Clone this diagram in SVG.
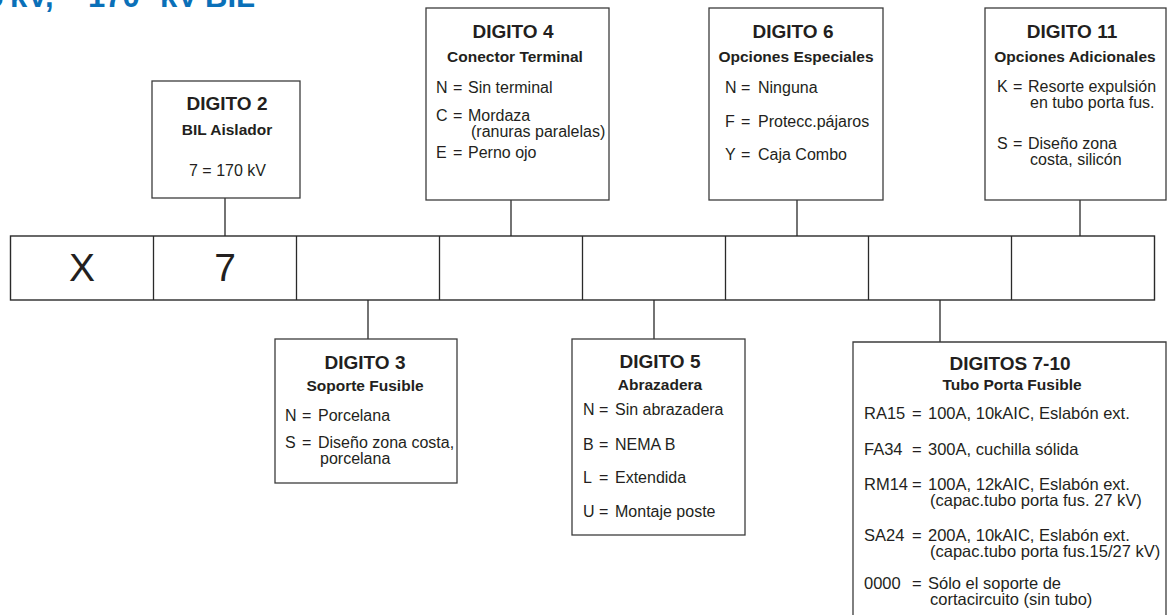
<svg xmlns="http://www.w3.org/2000/svg" width="1172" height="615" viewBox="0 0 1172 615">
<style>
.box{fill:#fff;stroke:#3c3c3c;stroke-width:1.3}
.row{fill:#fff;stroke:#2a2a2a;stroke-width:1.4}
.ln{stroke:#2a2a2a;stroke-width:1.3;fill:none}
text{font-family:"Liberation Sans",Arial,sans-serif;fill:#231f20}
.t{font-size:19px;font-weight:bold;text-anchor:middle}
.s{font-size:15.5px;font-weight:bold;text-anchor:middle}
.i{font-size:16px}
.j{font-size:16.5px}
.big{font-size:39px;text-anchor:middle}
.head{font-size:31px;font-weight:bold;fill:#0a70b8}
</style>
<rect width="1172" height="615" fill="#fff"/>
<g id="title"><text class="head" y="7"><tspan x="-14">5</tspan><tspan x="10">kV,</tspan><tspan x="88">170</tspan><tspan x="160">kV</tspan><tspan x="205">BIL</tspan></text></g>
<g id="code-row">
<rect class="row" x="10.5" y="236" width="1144" height="64"/>
<path class="ln" d="M153.5 236V300M296.5 236V300M439.5 236V300M582.5 236V300M725.5 236V300M868.5 236V300M1011.5 236V300"/>
<text class="big" x="82" y="281">X</text>
<text class="big" x="225" y="281">7</text>
</g>
<g id="connectors">
<path class="ln" d="M225 198V236M511 200V236M797 200V236M1080 200V236M368 300V339M654 300V339M940 300V342"/>
</g>
<g id="digito2">
<rect class="box" x="152" y="81" width="148" height="117"/>
<text class="t" x="227" y="110">DIGITO 2</text>
<text class="s" x="227" y="135">BIL Aislador</text>
<text class="i" x="189" y="176">7 = 170 kV</text>
</g>
<g id="digito4">
<rect class="box" x="426" y="8" width="183" height="192"/>
<text class="t" x="513" y="38">DIGITO 4</text>
<text class="s" x="515" y="62">Conector Terminal</text>
<text class="i" y="93"><tspan x="436">N</tspan><tspan x="453">=</tspan><tspan x="468">Sin terminal</tspan></text>
<text class="i" y="121"><tspan x="436">C</tspan><tspan x="453">=</tspan><tspan x="468">Mordaza</tspan></text>
<text class="i" x="471" y="137">(ranuras paralelas)</text>
<text class="i" y="158"><tspan x="436">E</tspan><tspan x="453">=</tspan><tspan x="468">Perno ojo</tspan></text>
</g>
<g id="digito6">
<rect class="box" x="709" y="8" width="174" height="192"/>
<text class="t" x="793" y="38">DIGITO 6</text>
<text class="s" x="796" y="62">Opciones Especiales</text>
<text class="i" y="93"><tspan x="725">N</tspan><tspan x="741">=</tspan><tspan x="758">Ninguna</tspan></text>
<text class="i" y="127"><tspan x="725">F</tspan><tspan x="741">=</tspan><tspan x="758">Protecc.pájaros</tspan></text>
<text class="i" y="160"><tspan x="725">Y</tspan><tspan x="741">=</tspan><tspan x="758">Caja Combo</tspan></text>
</g>
<g id="digito11">
<rect class="box" x="985" y="8" width="181" height="192"/>
<text class="t" x="1072" y="38">DIGITO 11</text>
<text class="s" x="1075" y="62">Opciones Adicionales</text>
<text class="i" y="92"><tspan x="997">K</tspan><tspan x="1013">=</tspan><tspan x="1028">Resorte expulsión</tspan></text>
<text class="i" x="1030" y="108">en tubo porta fus.</text>
<text class="i" y="149"><tspan x="997">S</tspan><tspan x="1013">=</tspan><tspan x="1028">Diseño zona</tspan></text>
<text class="i" x="1030" y="165">costa, silicón</text>
</g>
<g id="digito3">
<rect class="box" x="275" y="339" width="182" height="144"/>
<text class="t" x="365" y="369">DIGITO 3</text>
<text class="s" x="365" y="391">Soporte Fusible</text>
<text class="i" y="421"><tspan x="285">N</tspan><tspan x="302">=</tspan><tspan x="318">Porcelana</tspan></text>
<text class="i" y="448"><tspan x="285">S</tspan><tspan x="302">=</tspan><tspan x="318">Diseño zona costa,</tspan></text>
<text class="i" x="320" y="464">porcelana</text>
</g>
<g id="digito5">
<rect class="box" x="572" y="339" width="173" height="196"/>
<text class="t" x="660" y="368">DIGITO 5</text>
<text class="s" x="660" y="390">Abrazadera</text>
<text class="i" y="415"><tspan x="583">N</tspan><tspan x="599">=</tspan><tspan x="615">Sin abrazadera</tspan></text>
<text class="i" y="450"><tspan x="583">B</tspan><tspan x="599">=</tspan><tspan x="615">NEMA B</tspan></text>
<text class="i" y="483"><tspan x="583">L</tspan><tspan x="599">=</tspan><tspan x="615">Extendida</tspan></text>
<text class="i" y="517"><tspan x="583">U</tspan><tspan x="599">=</tspan><tspan x="615">Montaje poste</tspan></text>
</g>
<g id="digitos7-10">
<path class="box" d="M853 616V342H1166V616"/>
<text class="t" x="1010" y="370">DIGITOS 7-10</text>
<text class="s" x="1012" y="390">Tubo Porta Fusible</text>
<text class="j" y="419"><tspan x="864">RA15</tspan><tspan x="912">=</tspan><tspan x="928">100A, 10kAIC, Eslabón ext.</tspan></text>
<text class="j" y="455"><tspan x="864">FA34</tspan><tspan x="912">=</tspan><tspan x="928">300A, cuchilla sólida</tspan></text>
<text class="j" y="490"><tspan x="864">RM14</tspan><tspan x="912">=</tspan><tspan x="928">100A, 12kAIC, Eslabón ext.</tspan></text>
<text class="j" x="930" y="506">(capac.tubo porta fus. 27 kV)</text>
<text class="j" y="541"><tspan x="864">SA24</tspan><tspan x="912">=</tspan><tspan x="928">200A, 10kAIC, Eslabón ext.</tspan></text>
<text class="j" x="930" y="557">(capac.tubo porta fus.15/27 kV)</text>
<text class="j" y="589"><tspan x="864">0000</tspan><tspan x="912">=</tspan><tspan x="928">Sólo el soporte de</tspan></text>
<text class="j" x="930" y="605">cortacircuito (sin tubo)</text>
</g>
</svg>
